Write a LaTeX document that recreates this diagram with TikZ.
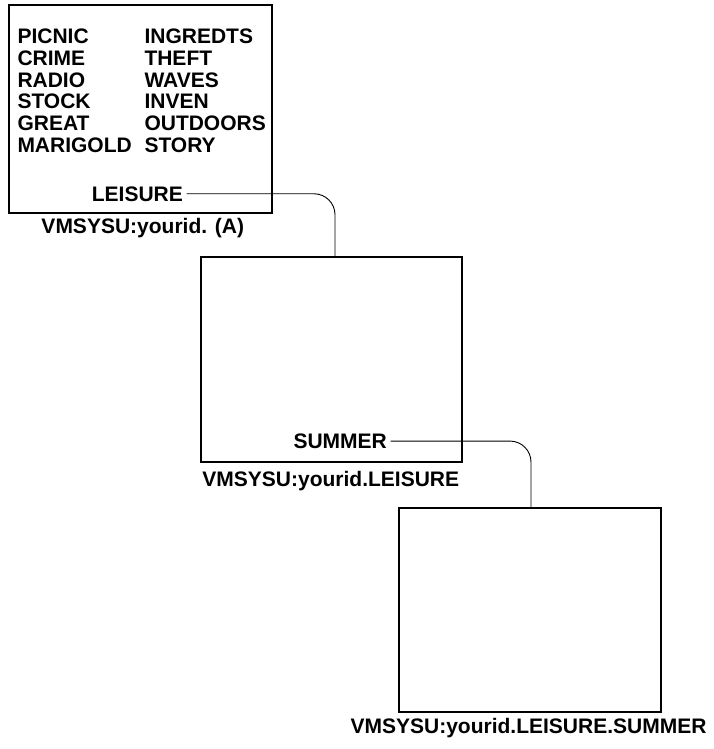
\documentclass[tikz,border=0pt]{standalone}
\usepackage{fontspec}
\setmainfont{Liberation Sans}
\begin{document}
\begin{tikzpicture}[x=1pt,y=-1pt,
  every node/.style={font=\fontsize{21}{22}\selectfont\bfseries},
  word/.style={anchor=base west,inner sep=0pt},
  caption/.style={anchor=base,inner sep=0pt},
  dirbox/.style={draw,line width=2.2pt,inner sep=0pt},
  link/.style={line width=0.9pt,rounded corners=21pt}]
\useasboundingbox (0,0) rectangle (714,749);
% boxes
\node[dirbox,minimum width=263pt,minimum height=208pt] (box1) at (140.5,109) {};
\node[dirbox,minimum width=261pt,minimum height=205pt] (box2) at (331.5,359.5) {};
\node[dirbox,minimum width=262pt,minimum height=204pt] (box3) at (530,610) {};
% words in box 1
\node[word] (w1) at (17.3,44) {PICNIC};
\node[word] (w2) at (17.3,65.7) {CRIME};
\node[word] (w3) at (17.3,87.3) {RADIO};
\node[word] (w4) at (17.3,109) {STOCK};
\node[word] (w5) at (17.3,130.7) {GREAT};
\node[word] (w6) at (17.3,152.3) {MARIGOLD};
\node[word] (w7) at (144.3,44) {INGREDTS};
\node[word] (w8) at (144.3,65.7) {THEFT};
\node[word] (w9) at (144.3,87.3) {WAVES};
\node[word] (w10) at (144.3,109) {INVEN};
\node[word] (w11) at (144.3,130.7) {OUTDOORS};
\node[word] (w12) at (144.3,152.3) {STORY};
% subdirectory labels
\node[word] (leis) at (91.7,201) {LEISURE};
\node[word] (summ) at (293.3,448.3) {SUMMER};
% captions
\node[caption] (cap1) at (142.8,233) {VMSYSU:yourid. (A)};
\node[caption] (cap2) at (330.8,486.7) {VMSYSU:yourid.LEISURE};
\node[caption] (cap3) at (528.5,733.3) {VMSYSU:yourid.LEISURE.SUMMER};
% connectors
\draw[link] ([xshift=3.5pt]leis.east) -| ([xshift=3.5pt]box2.north);
\draw[link] ([xshift=3.5pt]summ.east) -| ([xshift=1pt]box3.north);
\end{tikzpicture}
\end{document}
